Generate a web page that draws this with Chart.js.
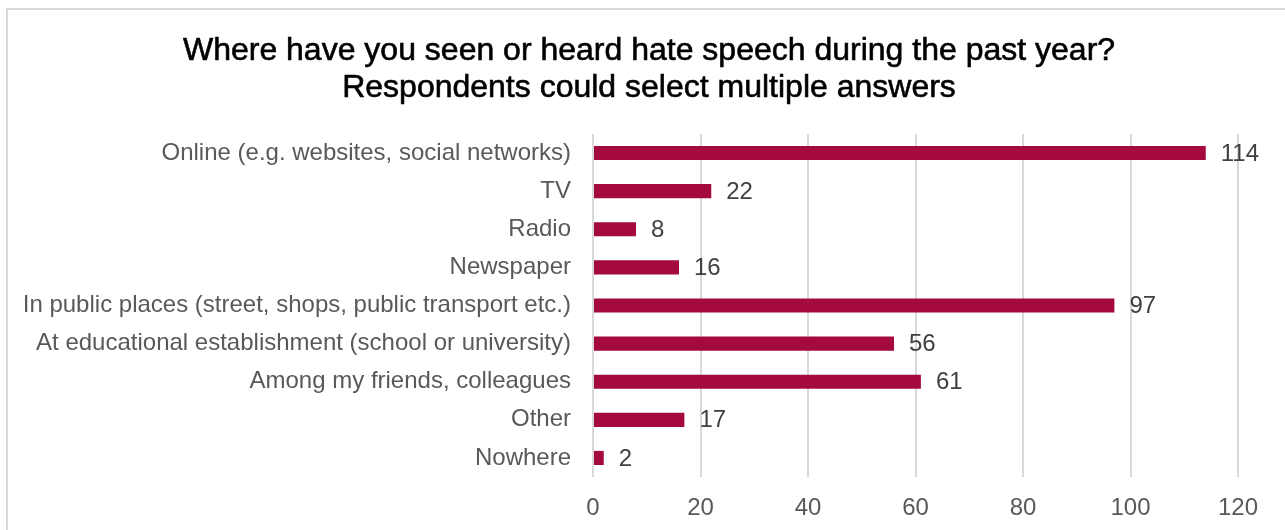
<!DOCTYPE html>
<html>
<head>
<meta charset="utf-8">
<script src="https://cdn.jsdelivr.net/npm/chart.js@4.4.1/dist/chart.umd.min.js"></script>
<style>
    html, body { margin: 0; padding: 0; background: #fff; }
    #wrap { position: relative; width: 1285px; height: 530px; overflow: hidden; }
    #frame { position: absolute; left: 6px; top: 8px; width: 1290px; height: 540px; border: 2px solid #d9d9d9; box-sizing: border-box; }
    canvas { position: absolute; left: 0; top: 0; }
</style>
</head>
<body>
<div id="wrap">
    <div id="frame"></div>
    <canvas id="chart" width="1285" height="530"></canvas>
</div>
<script>
const titleLines = [
    "Where have you seen or heard hate speech during the past year?",
    "Respondents could select multiple answers"
];
const categories = [
    "Online (e.g. websites, social networks)",
    "TV",
    "Radio",
    "Newspaper",
    "In public places (street, shops, public transport etc.)",
    "At educational establishment (school or university)",
    "Among my friends, colleagues",
    "Other",
    "Nowhere"
];
const answerCounts = [114, 22, 8, 16, 97, 56, 61, 17, 2];
const xTicks = [0, 20, 40, 60, 80, 100, 120];

const barColor = "#a50a3e";
const fontFamily = "'Liberation Sans', Arial, sans-serif";

// values printed to the right of each bar
const valueLabels = {
    id: "valueLabels",
    afterDatasetsDraw(chart) {
        const ctx = chart.ctx;
        const meta = chart.getDatasetMeta(0);
        ctx.save();
        ctx.font = "24px " + fontFamily;
        ctx.fillStyle = "#404040";
        ctx.textAlign = "left";
        ctx.textBaseline = "middle";
        meta.data.forEach((bar, i) => {
            ctx.fillText(String(answerCounts[i]), bar.x + 15, bar.y + 1);
        });
        ctx.restore();
    }
};

// two-line title, centred a bit right of the plot like the original
const chartTitle = {
    id: "chartTitle",
    afterDraw(chart) {
        const ctx = chart.ctx;
        ctx.save();
        ctx.font = "32px " + fontFamily;
        ctx.fillStyle = "#000";
        ctx.strokeStyle = "#000";
        ctx.lineWidth = 0.6;
        ctx.textAlign = "center";
        ctx.textBaseline = "alphabetic";
        const baselines = [60, 97];
        titleLines.forEach((line, i) => {
            ctx.fillText(line, 649, baselines[i]);
            ctx.strokeText(line, 649, baselines[i]);
        });
        ctx.restore();
    }
};

new Chart(document.getElementById("chart").getContext("2d"), {
    type: "bar",
    data: {
        labels: categories,
        datasets: [{
            data: answerCounts,
            backgroundColor: barColor,
            borderWidth: 0,
            categoryPercentage: 0.74,
            barPercentage: 0.5
        }]
    },
    options: {
        indexAxis: "y",
        responsive: false,
        animation: false,
        layout: {
            padding: { left: 0, right: 47, top: 134, bottom: 0 }
        },
        plugins: {
            legend: { display: false },
            tooltip: { enabled: false },
            title: { display: false }
        },
        scales: {
            x: {
                min: 0,
                max: 120,
                afterBuildTicks: scale => {
                    scale.ticks = xTicks.map(v => ({ value: v }));
                },
                afterFit: scale => {
                    scale.height = 53;
                },
                border: { display: false },
                grid: { color: "#d9d9d9", lineWidth: 2, drawTicks: false },
                ticks: {
                    color: "#595959",
                    padding: 17,
                    font: { family: fontFamily, size: 24 }
                }
            },
            y: {
                border: { display: false },
                grid: { display: false, drawTicks: false },
                ticks: {
                    color: "#595959",
                    padding: 22,
                    font: { family: fontFamily, size: 24 }
                },
                afterFit: scale => {
                    scale.width = 593;
                }
            }
        }
    },
    plugins: [valueLabels, chartTitle]
});
</script>
</body>
</html>
